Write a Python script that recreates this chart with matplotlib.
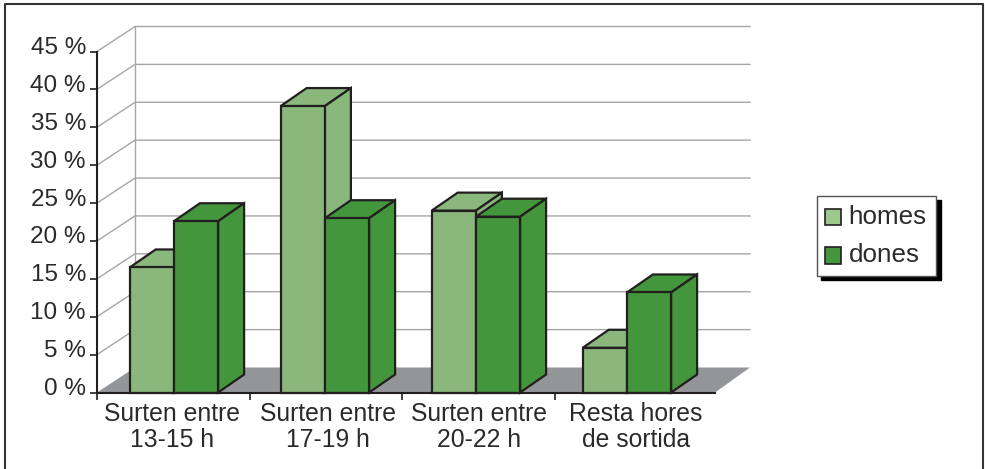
import matplotlib
matplotlib.use('Agg')
import matplotlib.pyplot as plt
from matplotlib.legend_handler import HandlerPatch
from matplotlib.lines import Line2D
from matplotlib.patches import Patch, Polygon, Rectangle
from matplotlib.transforms import ScaledTranslation

plt.rcParams['font.family'] = ['Liberation Sans', 'DejaVu Sans']

categories = ['Surten entre\n13-15 h', 'Surten entre\n17-19 h', 'Surten entre\n20-22 h', 'Resta hores\nde sortida']
homes = [16.5, 37.8, 24.0, 5.9]
dones = [22.6, 23.0, 23.2, 13.2]
y_ticks = [0, 5, 10, 15, 20, 25, 30, 35, 40, 45]
y_labels = ['0 %', '5 %', '10 %', '15 %', '20 %', '25 %', '30 %', '35 %', '40 %', '45 %']

TEXT = '#2b2a2b'
EDGE = '#231f20'
LIGHT = '#8ab77c'
DARK = '#43963c'
FLOOR = '#939598'
GRID = '#a6a6a6'

W, H = 985, 469
# one category is 152.7 px wide, one percent is 7.58 px high
X_PX = 152.7
Y_PX = 341 / 45

fig = plt.figure(figsize=(W / 100, H / 100), dpi=100)
ax = fig.add_axes([97 / W, (H - 392.5) / H, 618 / W, 341 / H])
ax.set_xlim(0, 618 / X_PX)
ax.set_ylim(0, 45)

wall_dx = 38 / X_PX
wall_dy = 25 / Y_PX
wall_end = 653 / X_PX
bar_dx = 26 / X_PX
bar_dy = 18 / Y_PX
bar_w = 44.2 / X_PX
bar_step = 151 / X_PX
bar_start = 32.7 / X_PX
x_end = 618 / X_PX


def poly(points, face, edge=EDGE, lw=1.6, z=3):
    ax.add_patch(Polygon(points, closed=True, facecolor=face, edgecolor=edge,
                         linewidth=lw, joinstyle='miter', clip_on=False, zorder=z))


def draw_bar(x, value, color, z):
    poly([(x, value), (x + bar_dx, value + bar_dy), (x + bar_w + bar_dx, value + bar_dy), (x + bar_w, value)], color, z=z)
    poly([(x + bar_w, 0), (x + bar_w + bar_dx, bar_dy), (x + bar_w + bar_dx, value + bar_dy), (x + bar_w, value)], color, z=z)
    poly([(x, 0), (x + bar_w, 0), (x + bar_w, value), (x, value)], color, z=z)


def low_swatch(legend, orig_handle, xdescent, ydescent, width, height, fontsize):
    # swatches hang just under the text baseline
    return Rectangle((-xdescent, -ydescent - 2), width, height)


# floor
poly([(0, 0), (wall_dx, wall_dy), (wall_end, wall_dy), (x_end, 0)], FLOOR, edge='none', lw=0, z=1)

# walls and grid
ax.plot([wall_dx, wall_dx], [wall_dy, 45 + wall_dy], color=GRID, lw=1, clip_on=False, zorder=1.5)
for t in y_ticks[1:]:
    ax.plot([0, wall_dx, wall_end], [t, t + wall_dy, t + wall_dy], color=GRID, lw=1, clip_on=False, zorder=1.5)

# bars, left to right so that the nearer faces cover the others
for i in range(len(categories)):
    x = bar_start + i * bar_step
    draw_bar(x, homes[i], LIGHT, 3 + i * 2)
    draw_bar(x + bar_w, dones[i], DARK, 4 + i * 2)

ax.spines['top'].set_visible(False)
ax.spines['right'].set_visible(False)
for side in ['left', 'bottom']:
    ax.spines[side].set_linewidth(1.5)
    ax.spines[side].set_color(EDGE)
    ax.spines[side].set_zorder(20)

ax.set_yticks(y_ticks)
ax.set_yticklabels(y_labels, fontsize=17.5, color=TEXT)
ax.tick_params(axis='y', length=5, width=1.2, color=EDGE, pad=3)
# the percent labels sit a little above their ticks
raise_labels = ScaledTranslation(0, 6 / 100, fig.dpi_scale_trans)
for label in ax.get_yticklabels():
    label.set_transform(label.get_transform() + raise_labels)

ax.set_xticks([0, 1, 2, 3])
ax.set_xticklabels([])
ax.tick_params(axis='x', which='major', length=5, width=1.2, color=EDGE)
ax.set_xticks([0.49, 1.51, 2.5, 3.53], minor=True)
ax.set_xticklabels(categories, minor=True, fontsize=17.8, color=TEXT, linespacing=1.08)
ax.tick_params(axis='x', which='minor', length=0, pad=7)

handles = [Patch(facecolor='#9cc78e', edgecolor=EDGE, linewidth=1.2),
           Patch(facecolor=DARK, edgecolor=EDGE, linewidth=1.2)]
leg = fig.legend(handles, ['homes', 'dones'], loc='upper left',
                 bbox_to_anchor=(816.5 / W, (H - 195.7) / H), bbox_transform=fig.transFigure,
                 fontsize=18.7, frameon=True, fancybox=False, edgecolor='#555555', facecolor='white',
                 framealpha=1, borderaxespad=0, borderpad=0.34, labelspacing=0.55,
                 handlelength=0.6, handleheight=0.6, handletextpad=0.3,
                 handler_map={Patch: HandlerPatch(patch_func=low_swatch)},
                 shadow={'ox': 3.5, 'oy': -3, 'color': 'black', 'alpha': 1})
leg.get_frame().set_linewidth(1)
for text in leg.get_texts():
    text.set_color(TEXT)

# outer frame, open at the bottom
fig.add_artist(Line2D([4.5 / W, 4.5 / W, 983 / W, 983 / W], [0, (H - 4.5) / H, (H - 4.5) / H, 0],
                      color='#333333', lw=1.5, transform=fig.transFigure))

fig.savefig('out.png', dpi=100)
